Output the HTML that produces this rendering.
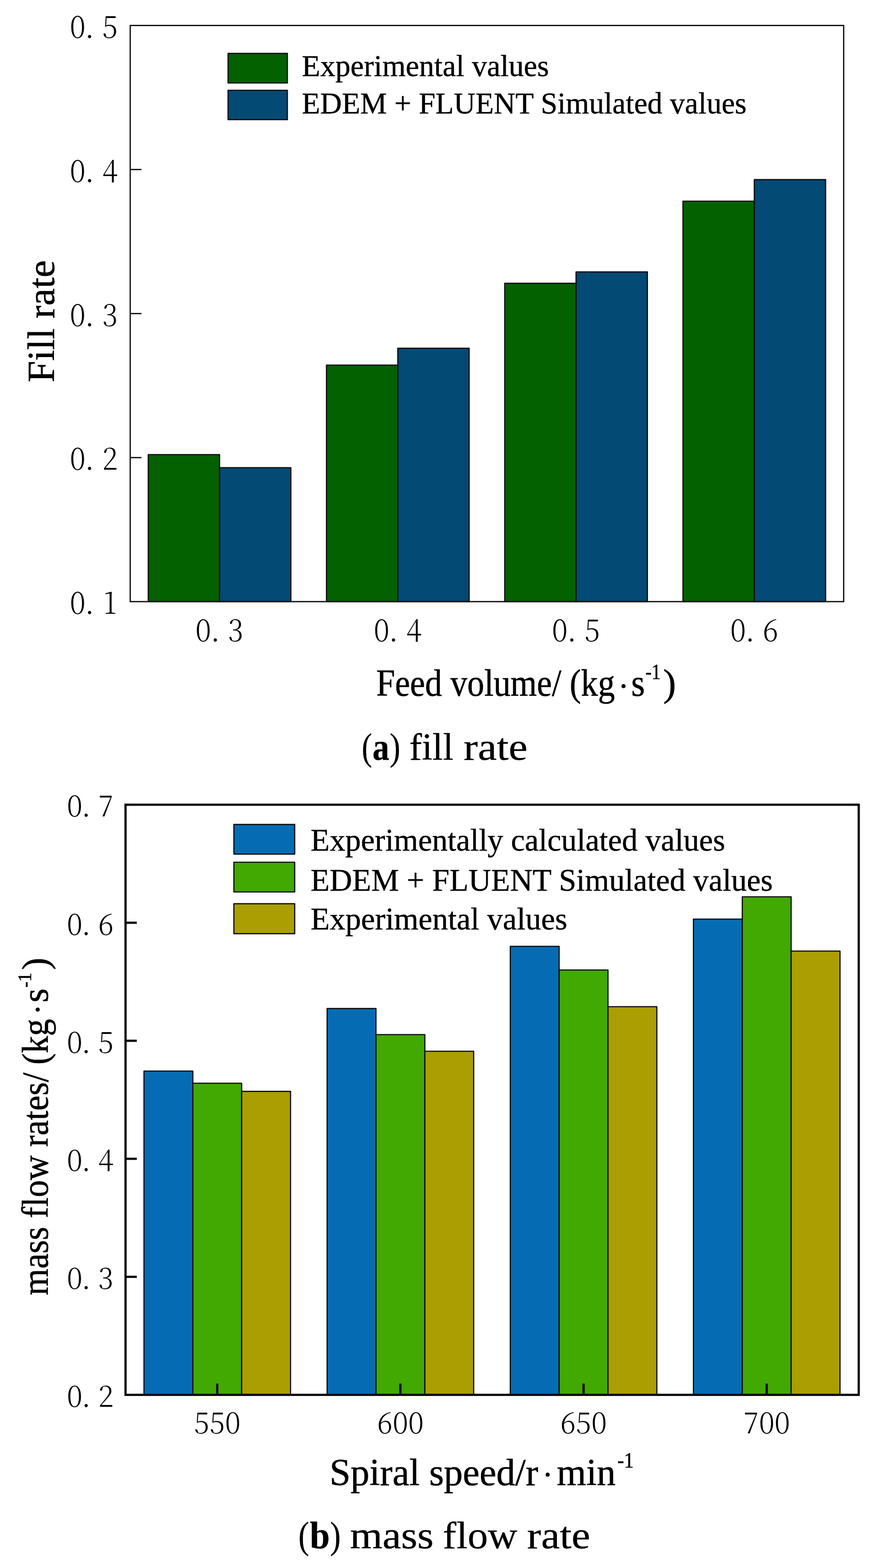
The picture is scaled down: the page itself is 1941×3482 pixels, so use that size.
<!DOCTYPE html>
<html lang="en"><head><meta charset="utf-8"><title>Fill rate and mass flow rate: experimental vs. simulated values</title>
<style>
html,body{margin:0;padding:0;background:#fff}
body{width:1941px;height:3482px;overflow:hidden}
svg{display:block}
text{font-family:'Liberation Serif', serif;fill:#000;white-space:pre}
.tk{font-family:'Noto Serif CJK SC', 'Liberation Serif', serif;font-weight:300}
.lg{stroke:#000;stroke-width:0.5px}
.ax{stroke:#000;stroke-width:0.7px}
.cap{stroke:#000;stroke-width:0.4px}
.bars rect,.sw{stroke:#0b0b0b;stroke-width:2.6px;stroke-linejoin:round}
.axis{stroke:#0a0a0a;fill:none}
</style>
</head><body>
<svg width="1941" height="3482" viewBox="0 0 1941 3482" role="img" aria-label="Bar charts: (a) fill rate, (b) mass flow rate">
<rect width="1941" height="3482" fill="#fff"/>
<g id="chart-a">
<g class="bars">
<rect x="329.2" y="1009.43" width="158.4" height="326.57" fill="#036100"/>
<rect x="487.6" y="1038.54" width="158.4" height="297.46" fill="#034A75"/>
<rect x="725.05" y="810.81" width="158.4" height="525.19" fill="#036100"/>
<rect x="883.45" y="773.38" width="158.4" height="562.62" fill="#034A75"/>
<rect x="1120.9" y="629.13" width="158.4" height="706.87" fill="#036100"/>
<rect x="1279.3" y="603.86" width="158.4" height="732.14" fill="#034A75"/>
<rect x="1516.75" y="446.82" width="158.4" height="889.18" fill="#036100"/>
<rect x="1675.15" y="398.84" width="158.4" height="937.16" fill="#034A75"/>
</g>
<g class="axis" stroke-width="2.8">
<line x1="289.2" y1="1016.15" x2="314.2" y2="1016.15"/>
<line x1="289.2" y1="696.3" x2="314.2" y2="696.3"/>
<line x1="289.2" y1="376.45" x2="314.2" y2="376.45"/>
<rect x="289.2" y="56.6" width="1584.5" height="1279.4" fill="none" stroke-width="2.8"/>
</g>
<text class="tk" text-anchor="middle" font-size="66.1" transform="scale(0.95 1)" x="181.47 209.52 257.26" y="1363.33">0.1</text>
<text class="tk" text-anchor="middle" font-size="66.1" transform="scale(0.95 1)" x="181.47 209.52 257.26" y="1043.48">0.2</text>
<text class="tk" text-anchor="middle" font-size="66.1" transform="scale(0.95 1)" x="181.47 209.52 257.26" y="723.63">0.3</text>
<text class="tk" text-anchor="middle" font-size="66.1" transform="scale(0.95 1)" x="181.47 209.52 257.26" y="403.78">0.4</text>
<text class="tk" text-anchor="middle" font-size="66.1" transform="scale(0.95 1)" x="181.47 209.52 257.26" y="83.93">0.5</text>
<text class="tk" text-anchor="middle" font-size="66.1" transform="scale(0.95 1)" x="475.37 503.41 551.16" y="1424.33">0.3</text>
<text class="tk" text-anchor="middle" font-size="66.1" transform="scale(0.95 1)" x="892.05 920.09 967.84" y="1424.33">0.4</text>
<text class="tk" text-anchor="middle" font-size="66.1" transform="scale(0.95 1)" x="1308.74 1336.78 1384.53" y="1424.33">0.5</text>
<text class="tk" text-anchor="middle" font-size="66.1" transform="scale(0.95 1)" x="1725.42 1753.46 1801.21" y="1424.33">0.6</text>
<rect class="sw" x="506.5" y="118.6" width="131.7" height="65.7" fill="#036100"/>
<text class="lg"><tspan x="670.36" y="169.4" font-size="67.6" textLength="548.8" lengthAdjust="spacingAndGlyphs">Experimental values</tspan></text>
<rect class="sw" x="506.5" y="200.5" width="131.7" height="65.2" fill="#034A75"/>
<text class="lg"><tspan x="670.37" y="252.1" font-size="67.6" textLength="987.61" lengthAdjust="spacingAndGlyphs">EDEM + FLUENT Simulated values</tspan></text>
<text class="ax" transform="translate(120 847) rotate(-90)"><tspan x="-2.38" y="0" font-size="85" textLength="271.56" lengthAdjust="spacingAndGlyphs">Fill rate</tspan></text>
<text class="ax"><tspan x="835.43" y="1545.3" font-size="84" textLength="530.03" lengthAdjust="spacingAndGlyphs">Feed volume/ (kg</tspan><tspan x="1372.73" y="1547.75" font-size="72">·</tspan><tspan x="1401.78" y="1545.3" font-size="84" textLength="30.39" lengthAdjust="spacingAndGlyphs">s</tspan><tspan x="1433.38" y="1507.5" font-size="48" textLength="33.77" lengthAdjust="spacingAndGlyphs">-1</tspan><tspan x="1472.82" y="1545.3" font-size="84" textLength="28.45" lengthAdjust="spacingAndGlyphs">)</tspan></text>
</g>
<text class="cap"><tspan x="803.4" y="1686.5" font-size="84" textLength="22.76" lengthAdjust="spacingAndGlyphs">(</tspan><tspan x="827.28" y="1686.5" font-size="84" textLength="37.24" lengthAdjust="spacingAndGlyphs" font-weight="bold">a</tspan><tspan x="865.4" y="1686.5" font-size="84" textLength="23.54" lengthAdjust="spacingAndGlyphs">)</tspan> <tspan x="909.08" y="1686.5" font-size="84" textLength="97.93" lengthAdjust="spacingAndGlyphs">fill</tspan> <tspan x="1029.61" y="1686.5" font-size="84" textLength="141.98" lengthAdjust="spacingAndGlyphs">rate</tspan></text>
<g id="chart-b">
<g class="bars">
<rect x="319.75" y="2378.56" width="108.5" height="718.94" fill="#056CB4"/>
<rect x="428.25" y="2405.56" width="108.5" height="691.94" fill="#42A802"/>
<rect x="536.75" y="2423.64" width="108.5" height="673.86" fill="#AA9E02"/>
<rect x="726.5" y="2239.65" width="108.5" height="857.85" fill="#056CB4"/>
<rect x="835" y="2297.57" width="108.5" height="799.93" fill="#42A802"/>
<rect x="943.5" y="2334.53" width="108.5" height="762.97" fill="#AA9E02"/>
<rect x="1133.25" y="2101.52" width="108.5" height="995.98" fill="#056CB4"/>
<rect x="1241.75" y="2153.94" width="108.5" height="943.56" fill="#42A802"/>
<rect x="1350.25" y="2235.45" width="108.5" height="862.05" fill="#AA9E02"/>
<rect x="1540" y="2040.97" width="108.5" height="1056.53" fill="#056CB4"/>
<rect x="1648.5" y="1991.44" width="108.5" height="1106.06" fill="#42A802"/>
<rect x="1757" y="2112" width="108.5" height="985.5" fill="#AA9E02"/>
</g>
<g class="axis" stroke-width="5">
<line x1="278.8" y1="2835.4" x2="303.8" y2="2835.4"/>
<line x1="278.8" y1="2573.3" x2="303.8" y2="2573.3"/>
<line x1="278.8" y1="2311.2" x2="303.8" y2="2311.2"/>
<line x1="278.8" y1="2049.1" x2="303.8" y2="2049.1"/>
<line x1="482.5" y1="3097.5" x2="482.5" y2="3072.5"/>
<line x1="889.25" y1="3097.5" x2="889.25" y2="3072.5"/>
<line x1="1296" y1="3097.5" x2="1296" y2="3072.5"/>
<line x1="1702.75" y1="3097.5" x2="1702.75" y2="3072.5"/>
<rect x="278.8" y="1787" width="1628.3" height="1310.5" fill="none" stroke-width="5"/>
</g>
<text class="tk" text-anchor="middle" font-size="63.2" transform="scale(0.985 1)" x="168.38 194.41 238.73" y="3123.98">0.2</text>
<text class="tk" text-anchor="middle" font-size="63.2" transform="scale(0.985 1)" x="168.38 194.41 238.73" y="2861.88">0.3</text>
<text class="tk" text-anchor="middle" font-size="63.2" transform="scale(0.985 1)" x="168.38 194.41 238.73" y="2599.78">0.4</text>
<text class="tk" text-anchor="middle" font-size="63.2" transform="scale(0.985 1)" x="168.38 194.41 238.73" y="2337.68">0.5</text>
<text class="tk" text-anchor="middle" font-size="63.2" transform="scale(0.985 1)" x="168.38 194.41 238.73" y="2075.58">0.6</text>
<text class="tk" text-anchor="middle" font-size="63.2" transform="scale(0.985 1)" x="168.38 194.41 238.73" y="1813.48">0.7</text>
<text class="tk" text-anchor="middle" font-size="63.2" transform="scale(0.985 1)" x="454.67 489.85 525.03" y="3183.18">550</text>
<text class="tk" text-anchor="middle" font-size="63.2" transform="scale(0.985 1)" x="867.61 902.79 937.97" y="3183.18">600</text>
<text class="tk" text-anchor="middle" font-size="63.2" transform="scale(0.985 1)" x="1280.56 1315.74 1350.91" y="3183.18">650</text>
<text class="tk" text-anchor="middle" font-size="63.2" transform="scale(0.985 1)" x="1693.5 1728.68 1763.86" y="3183.18">700</text>
<rect class="sw" x="519.4" y="1830.9" width="135.1" height="65.7" fill="#056CB4"/>
<text class="lg"><tspan x="689.79" y="1889.1" font-size="70.2" textLength="920.6" lengthAdjust="spacingAndGlyphs">Experimentally calculated values</tspan></text>
<rect class="sw" x="519.4" y="1914.7" width="135.1" height="66.1" fill="#42A802"/>
<text class="lg"><tspan x="689.8" y="1978.3" font-size="70.2" textLength="1026.48" lengthAdjust="spacingAndGlyphs">EDEM + FLUENT Simulated values</tspan></text>
<rect class="sw" x="519.4" y="2006.9" width="135.1" height="66.5" fill="#AA9E02"/>
<text class="lg"><tspan x="689.79" y="2064.3" font-size="70.2" textLength="569.96" lengthAdjust="spacingAndGlyphs">Experimental values</tspan></text>
<text class="ax" transform="translate(106.3 3000) rotate(-90)"><tspan x="123.48" y="0" font-size="82" textLength="494.62" lengthAdjust="spacingAndGlyphs">mass flow rates/</tspan> <tspan x="635.75" y="0" font-size="82" textLength="101.82" lengthAdjust="spacingAndGlyphs">(kg</tspan><tspan x="746.13" y="1.25" font-size="72">·</tspan><tspan x="773.69" y="0" font-size="82" textLength="31.26" lengthAdjust="spacingAndGlyphs">s</tspan><tspan x="806.71" y="-37.2" font-size="42" textLength="33.21" lengthAdjust="spacingAndGlyphs">-1</tspan><tspan x="846.36" y="0" font-size="82" textLength="27.03" lengthAdjust="spacingAndGlyphs">)</tspan></text>
<text class="ax"><tspan x="731.94" y="3297.6" font-size="85" textLength="463.42" lengthAdjust="spacingAndGlyphs">Spiral speed/r</tspan><tspan x="1204.33" y="3299.15" font-size="72">·</tspan><tspan x="1236.62" y="3297.6" font-size="85" textLength="130.6" lengthAdjust="spacingAndGlyphs">min</tspan><tspan x="1371.27" y="3259.1" font-size="48" textLength="36.27" lengthAdjust="spacingAndGlyphs">-1</tspan></text>
</g>
<text class="cap"><tspan x="662.78" y="3438.2" font-size="84" textLength="23.67" lengthAdjust="spacingAndGlyphs">(</tspan><tspan x="688" y="3438.2" font-size="84" textLength="44.49" lengthAdjust="spacingAndGlyphs" font-weight="bold">b</tspan><tspan x="732.99" y="3438.2" font-size="84" textLength="23.67" lengthAdjust="spacingAndGlyphs">)</tspan> <tspan x="777.34" y="3438.2" font-size="84" textLength="185.64" lengthAdjust="spacingAndGlyphs">mass</tspan> <tspan x="983.39" y="3438.2" font-size="84" textLength="165.31" lengthAdjust="spacingAndGlyphs">flow</tspan> <tspan x="1170.63" y="3438.2" font-size="84" textLength="140.32" lengthAdjust="spacingAndGlyphs">rate</tspan></text>
</svg>
</body></html>
